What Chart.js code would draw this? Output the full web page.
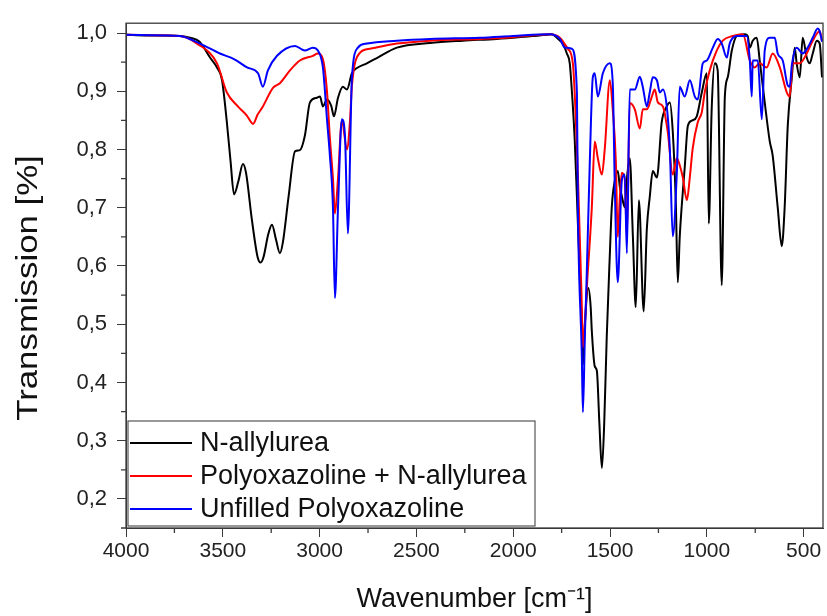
<!DOCTYPE html>
<html><head><meta charset="utf-8">
<script src="https://cdn.jsdelivr.net/npm/chart.js@4.4.1/dist/chart.umd.min.js"></script>
<style>html,body{margin:0;padding:0;background:#fff;}#wrap{width:827px;height:616px;}</style>
</head><body><div id="wrap"><canvas id="c" width="827" height="616"></canvas></div>
<script>
// ---- data ----
const seriesNames = ['N-allylurea', 'Polyoxazoline + N-allylurea', 'Unfilled Polyoxazoline'];
const seriesColors = ['#000000', '#ff0000', '#0000ff'];
const xTitle = 'Wavenumber [cm\u207B\u00B9]';
const yTitle = 'Transmission [%]';

const naWn = [4000,3900,3800,3720,3670,3620,3566,3530,3504,3480,3460,3442,3420,3396,3380,3350,3320,3305,3290,3265,3246,3225,3205,3190,3160,3127,3102,3076,3050,3014,2998,2983,2962,2940,2926,2905,2880,2859,2833,2807,2756,2700,2601,2430,2260,2085,1900,1826,1801,1780,1759,1744,1723,1708,1697,1682,1666,1646,1640,1630,1612,1600,1594,1579,1568,1555,1542,1530,1517,1501,1491,1475,1460,1449,1439,1424,1410,1398,1382,1367,1351,1326,1310,1295,1279,1258,1233,1207,1191,1176,1160,1150,1140,1129,1114,1098,1075,1052,1026,1000,990,975,959,944,923,907,892,871,845,804,789,778,763,742,727,701,675,660,634,613,598,582,561,546,536,520,505,484,469,453,432,417,405];
const naT  = [0.997,0.996,0.996,0.995,0.992,0.985,0.958,0.941,0.919,0.85,0.78,0.723,0.745,0.775,0.76,0.68,0.615,0.606,0.615,0.655,0.671,0.645,0.622,0.64,0.72,0.797,0.799,0.824,0.881,0.889,0.891,0.874,0.886,0.875,0.857,0.889,0.908,0.903,0.931,0.940,0.948,0.958,0.975,0.983,0.987,0.990,0.995,0.997,0.998,0.994,0.987,0.982,0.965,0.948,0.90,0.814,0.673,0.50,0.43,0.50,0.562,0.53,0.488,0.428,0.42,0.33,0.253,0.33,0.478,0.62,0.701,0.747,0.763,0.735,0.72,0.701,0.76,0.785,0.651,0.529,0.713,0.522,0.663,0.718,0.763,0.752,0.847,0.874,0.881,0.831,0.706,0.572,0.65,0.706,0.77,0.841,0.85,0.857,0.898,0.931,0.673,0.869,0.948,0.936,0.567,0.891,0.924,0.970,0.995,0.998,0.995,0.975,0.987,0.992,0.953,0.881,0.814,0.790,0.701,0.634,0.701,0.841,0.924,0.975,0.948,0.924,0.992,0.958,0.948,0.965,0.987,0.982,0.924];

const mixWn = [4000,3800,3721,3633,3530,3479,3422,3375,3344,3320,3293,3241,3205,3153,3102,3035,3009,2983,2962,2947,2931,2921,2905,2885,2859,2843,2833,2792,2740,2601,2430,2172,2002,1811,1759,1718,1692,1666,1646,1640,1630,1620,1594,1579,1563,1542,1527,1501,1486,1470,1460,1449,1439,1424,1413,1398,1372,1346,1331,1310,1284,1269,1253,1227,1202,1176,1155,1140,1124,1103,1088,1073,1047,1026,1011,985,949,918,866,814,778,753,727,691,660,623,587,572,556,520,484,453,417,405];
const mixT  = [0.997,0.996,0.995,0.982,0.948,0.898,0.874,0.858,0.844,0.86,0.874,0.906,0.914,0.936,0.953,0.961,0.965,0.955,0.90,0.82,0.75,0.69,0.75,0.85,0.80,0.85,0.91,0.966,0.973,0.982,0.987,0.990,0.993,0.998,0.992,0.973,0.948,0.757,0.534,0.46,0.50,0.562,0.701,0.814,0.785,0.757,0.802,0.919,0.869,0.78,0.65,0.72,0.76,0.75,0.65,0.88,0.869,0.836,0.869,0.869,0.891,0.903,0.881,0.874,0.831,0.757,0.785,0.773,0.752,0.713,0.752,0.802,0.847,0.864,0.898,0.936,0.970,0.987,0.995,0.998,0.953,0.941,0.948,0.941,0.965,0.941,0.898,0.891,0.948,0.948,0.965,0.987,1.003,0.987];

const poxWn = [4000,3800,3721,3618,3515,3440,3375,3318,3293,3267,3220,3127,3076,3035,3009,2983,2962,2947,2931,2921,2905,2885,2869,2854,2833,2802,2756,2601,2430,2172,2002,1811,1759,1733,1718,1697,1671,1666,1646,1640,1630,1620,1604,1589,1579,1563,1537,1501,1486,1475,1460,1439,1424,1413,1398,1372,1346,1331,1310,1295,1279,1258,1243,1227,1207,1191,1176,1155,1140,1114,1088,1062,1047,1021,1000,969,944,923,897,882,845,794,778,768,763,737,716,701,675,649,634,608,582,572,561,536,505,479,453,427,417,405];
const poxT  = [0.997,0.996,0.995,0.982,0.965,0.955,0.941,0.931,0.908,0.936,0.961,0.978,0.970,0.975,0.970,0.941,0.852,0.79,0.70,0.545,0.70,0.852,0.824,0.656,0.924,0.975,0.982,0.987,0.990,0.992,0.995,0.998,0.990,0.975,0.975,0.973,0.898,0.70,0.45,0.349,0.478,0.589,0.785,0.924,0.931,0.891,0.931,0.948,0.914,0.73,0.572,0.747,0.757,0.622,0.903,0.903,0.925,0.908,0.874,0.898,0.924,0.919,0.898,0.903,0.874,0.80,0.651,0.76,0.908,0.891,0.919,0.891,0.886,0.948,0.953,0.975,0.990,0.982,0.958,0.982,0.995,0.995,0.953,0.891,0.953,0.953,0.852,0.970,0.992,0.992,0.965,0.953,0.91,0.908,0.945,0.975,0.965,0.975,0.992,1.008,1.003,0.985];

const xTicks = [4000,3500,3000,2500,2000,1500,1000,500];
const xMinor = [3750,3250,2750,2250,1750,1250,750];
const yTicks = [0.2,0.3,0.4,0.5,0.6,0.7,0.8,0.9,1.0];
const yMinor = [0.15,0.25,0.35,0.45,0.55,0.65,0.75,0.85,0.95];

const pts = (wn, t) => wn.map((w, i) => ({x: w, y: t[i]}));

const FONT = '"Liberation Sans", Arial, sans-serif';
const AXIS = '#3a3a3a';

const framePlugin = {
  id: 'frame',
  afterDraw(chart) {
    const ctx = chart.ctx, a = chart.chartArea;
    const xs = chart.scales.x, ys = chart.scales.y;
    ctx.save();
    ctx.strokeStyle = AXIS;
    ctx.lineWidth = 1.3;
    ctx.strokeRect(a.left, a.top, a.right - a.left, a.bottom - a.top);
    ctx.beginPath();
    xMinor.forEach(v => { const p = xs.getPixelForValue(v); ctx.moveTo(p, a.bottom); ctx.lineTo(p, a.bottom + 5); });
    yMinor.forEach(v => { const p = ys.getPixelForValue(v); ctx.moveTo(a.left, p); ctx.lineTo(a.left - 5, p); });
    ctx.stroke();
    // y axis title (slightly stretched along its length like the reference)
    ctx.save();
    ctx.translate(29, 288);
    ctx.rotate(-Math.PI / 2);
    ctx.scale(1.2, 1);
    ctx.font = '29px ' + FONT;
    ctx.fillStyle = '#111';
    ctx.textAlign = 'center';
    ctx.textBaseline = 'middle';
    ctx.fillText(yTitle, 0, 0);
    ctx.restore();
    // legend box
    const L = a.left + 2, T = 421, R = 535, B = a.bottom - 2;
    ctx.fillStyle = '#ffffff';
    ctx.fillRect(L, T, R - L, B - T);
    ctx.strokeStyle = '#555';
    ctx.lineWidth = 1.2;
    ctx.strokeRect(L, T, R - L, B - T);
    ctx.font = '27px ' + FONT;
    ctx.textBaseline = 'middle';
    chart.data.datasets.forEach((ds, i) => {
      const y = T + 22 + i * 33;
      ctx.strokeStyle = ds.borderColor;
      ctx.lineWidth = 2;
      ctx.beginPath(); ctx.moveTo(L + 2, y); ctx.lineTo(L + 64, y); ctx.stroke();
      ctx.fillStyle = '#111';
      ctx.fillText(ds.label, L + 72, y + 1);
    });
    ctx.restore();
  }
};

new Chart(document.getElementById('c'), {
  type: 'line',
  data: {
    datasets: [
      {label: seriesNames[0], data: pts(naWn, naT), borderColor: seriesColors[0], order: 3},
      {label: seriesNames[1], data: pts(mixWn, mixT), borderColor: seriesColors[1], order: 2},
      {label: seriesNames[2], data: pts(poxWn, poxT), borderColor: seriesColors[2], order: 1}
    ].map(d => Object.assign(d, {borderWidth: 2, pointRadius: 0, cubicInterpolationMode: 'monotone', fill: false}))
  },
  options: {
    responsive: false,
    animation: false,
    layout: {padding: {top: 12, right: 4, left: 0, bottom: 0}},
    plugins: {legend: {display: false}, tooltip: {enabled: false}},
    scales: {
      x: {
        type: 'linear', reverse: true, min: 400, max: 4000,
        afterBuildTicks: s => { s.ticks = xTicks.map(v => ({value: v})); },
        afterFit: s => { s.height = 88; },
        grid: {drawOnChartArea: false, drawTicks: true, tickLength: 9, color: AXIS},
        border: {display: true, color: AXIS},
        ticks: {font: {family: FONT, size: 21}, color: '#222', padding: 2, maxRotation: 0, autoSkip: false,
          callback: v => String(v)},
        title: {display: true, text: xTitle, font: {family: FONT, size: 27}, color: '#111', padding: {top: 0, bottom: 0}}
      },
      y: {
        type: 'linear', min: 0.15, max: 1.017,
        afterBuildTicks: s => { s.ticks = yTicks.map(v => ({value: v})); },
        afterFit: s => { s.width = 126; },
        grid: {drawOnChartArea: false, drawTicks: true, tickLength: 9, color: AXIS},
        border: {display: true, color: AXIS},
        ticks: {font: {family: FONT, size: 22}, color: '#222', padding: 10,
          callback: v => v.toFixed(1).replace('.', ',')},
        title: {display: false, text: yTitle}
      }
    }
  },
  plugins: [framePlugin]
});
</script></body></html>
